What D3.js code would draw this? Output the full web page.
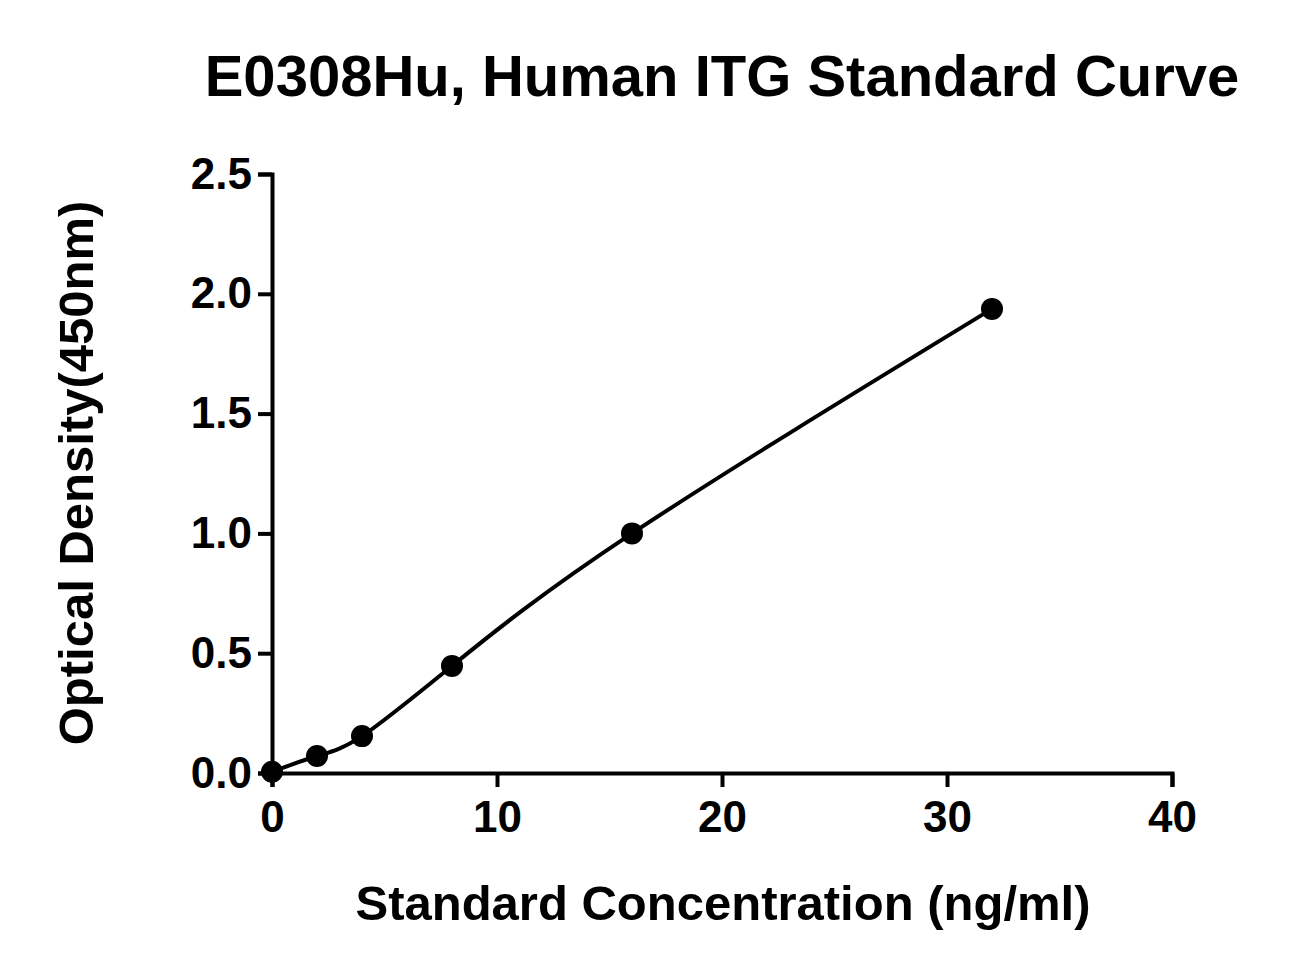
<!DOCTYPE html>
<html><head><meta charset="utf-8">
<script src="https://cdn.jsdelivr.net/npm/d3@7"></script>
<style>body{margin:0;background:#fff}text{font-family:"Liberation Sans",Arial,sans-serif;font-weight:bold}</style>
</head><body><div id="viz"></div>
<script>
var concentration = [0, 2, 4, 8, 16, 32];
var density = [0.005, 0.071, 0.154, 0.447, 1.0, 1.937];
var xTicks = [0, 10, 20, 30, 40];
var yTicks = [0, 0.5, 1.0, 1.5, 2.0, 2.5];

var width = 1311, height = 975;
var svg = d3.select("#viz").append("svg").attr("width", width).attr("height", height);

var x = d3.scaleLinear().domain([0, 40]).range([272, 1172]);
var y = d3.scaleLinear().domain([0, 2.5]).range([773, 174]);

// axes
var xAxis = svg.append("g").attr("transform", "translate(0,773)")
    .call(d3.axisBottom(x).tickValues(xTicks).tickSize(14).tickPadding(10).tickFormat(d3.format("d")));
var yAxis = svg.append("g").attr("transform", "translate(272,0)")
    .call(d3.axisLeft(y).tickValues(yTicks).tickSize(14).tickPadding(6).tickFormat(d3.format(".1f")));
[xAxis, yAxis].forEach(function(a) {
  a.select(".domain").attr("stroke", "#000").attr("stroke-width", 4);
  a.selectAll(".tick line").attr("stroke", "#000").attr("stroke-width", 4);
  a.selectAll("text").attr("fill", "#000").style("font-size", "44px");
});
xAxis.selectAll(".tick text").attr("dy", "0.8em");

// fitted curve
var pts = concentration.map(function(c, i) { return [x(c), y(density[i])]; });
svg.append("path").attr("d", d3.line().curve(d3.curveNatural)(pts))
    .attr("fill", "none").attr("stroke", "#000").attr("stroke-width", 4);

svg.selectAll("circle.pt").data(pts).enter().append("circle")
    .attr("cx", function(d) { return d[0]; }).attr("cy", function(d) { return d[1]; })
    .attr("r", 11).attr("fill", "#000");

// titles
svg.append("text").attr("x", 722).attr("y", 96).attr("text-anchor", "middle")
    .style("font-size", "58px").text("E0308Hu, Human ITG Standard Curve");
svg.append("text").attr("x", 723).attr("y", 920).attr("text-anchor", "middle")
    .style("font-size", "49px").text("Standard Concentration (ng/ml)");
svg.append("text").attr("transform", "translate(93,473) rotate(-90)").attr("text-anchor", "middle")
    .style("font-size", "49px").text("Optical Density(450nm)");
</script></body></html>
